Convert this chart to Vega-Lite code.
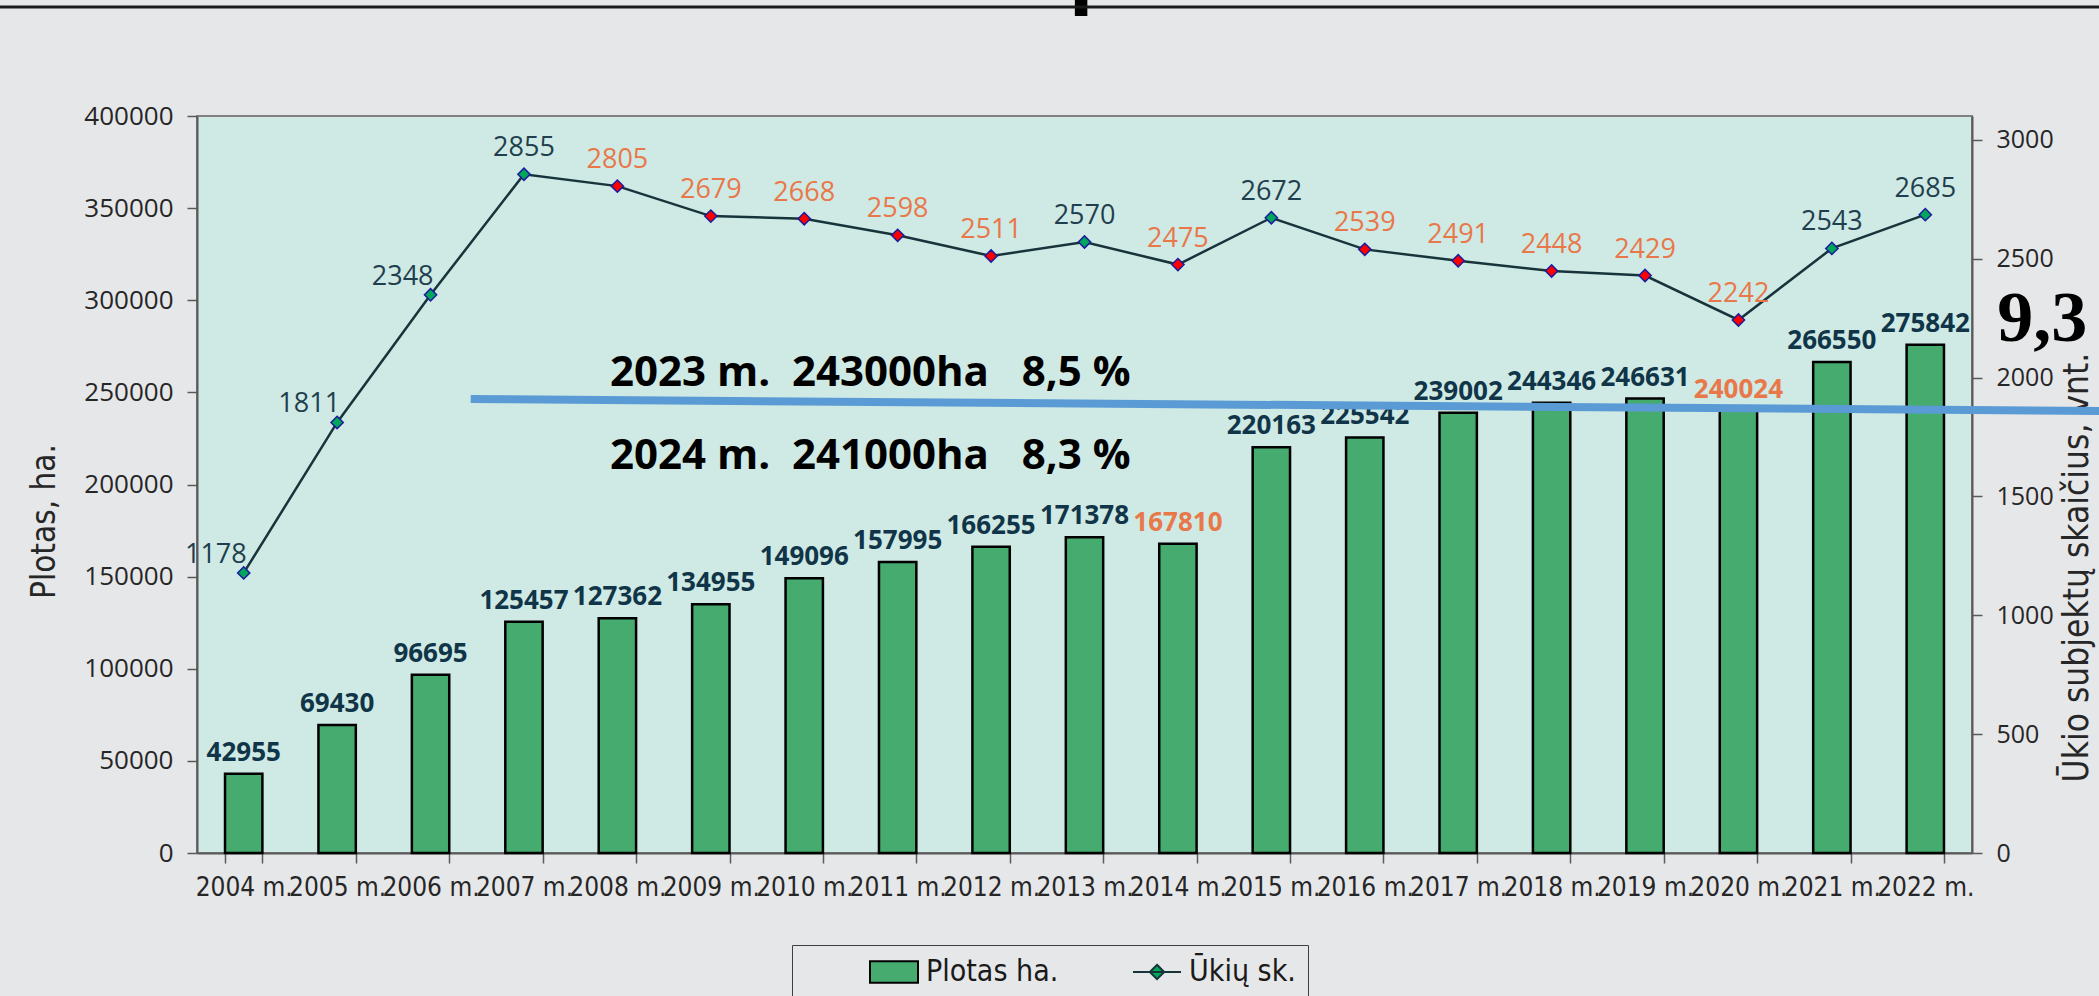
{
  "$schema": "https://vega.github.io/schema/vega-lite/v6.json",
  "width": 1775,
  "height": 737,
  "autosize": {"type": "none"},
  "padding": {"left": 197, "top": 116, "right": 127, "bottom": 143},
  "background": "#E6E7E9",
  "config": {
    "view": {"fill": "#CFE9E4", "stroke": "#808080", "strokeWidth": 2},
    "font": "Open Sans"
  },
  "datasets": {
    "duomenys": [
      {"metai": "2004 m.", "plotas": 42955, "ukiai": 1178, "ploto_pokytis": "augimas", "ukiu_pokytis": "augimas"},
      {"metai": "2005 m.", "plotas": 69430, "ukiai": 1811, "ploto_pokytis": "augimas", "ukiu_pokytis": "augimas"},
      {"metai": "2006 m.", "plotas": 96695, "ukiai": 2348, "ploto_pokytis": "augimas", "ukiu_pokytis": "augimas"},
      {"metai": "2007 m.", "plotas": 125457, "ukiai": 2855, "ploto_pokytis": "augimas", "ukiu_pokytis": "augimas"},
      {"metai": "2008 m.", "plotas": 127362, "ukiai": 2805, "ploto_pokytis": "augimas", "ukiu_pokytis": "kritimas"},
      {"metai": "2009 m.", "plotas": 134955, "ukiai": 2679, "ploto_pokytis": "augimas", "ukiu_pokytis": "kritimas"},
      {"metai": "2010 m.", "plotas": 149096, "ukiai": 2668, "ploto_pokytis": "augimas", "ukiu_pokytis": "kritimas"},
      {"metai": "2011 m.", "plotas": 157995, "ukiai": 2598, "ploto_pokytis": "augimas", "ukiu_pokytis": "kritimas"},
      {"metai": "2012 m.", "plotas": 166255, "ukiai": 2511, "ploto_pokytis": "augimas", "ukiu_pokytis": "kritimas"},
      {"metai": "2013 m.", "plotas": 171378, "ukiai": 2570, "ploto_pokytis": "augimas", "ukiu_pokytis": "augimas"},
      {"metai": "2014 m.", "plotas": 167810, "ukiai": 2475, "ploto_pokytis": "kritimas", "ukiu_pokytis": "kritimas"},
      {"metai": "2015 m.", "plotas": 220163, "ukiai": 2672, "ploto_pokytis": "augimas", "ukiu_pokytis": "augimas"},
      {"metai": "2016 m.", "plotas": 225542, "ukiai": 2539, "ploto_pokytis": "augimas", "ukiu_pokytis": "kritimas"},
      {"metai": "2017 m.", "plotas": 239002, "ukiai": 2491, "ploto_pokytis": "augimas", "ukiu_pokytis": "kritimas"},
      {"metai": "2018 m.", "plotas": 244346, "ukiai": 2448, "ploto_pokytis": "augimas", "ukiu_pokytis": "kritimas"},
      {"metai": "2019 m.", "plotas": 246631, "ukiai": 2429, "ploto_pokytis": "augimas", "ukiu_pokytis": "kritimas"},
      {"metai": "2020 m.", "plotas": 240024, "ukiai": 2242, "ploto_pokytis": "kritimas", "ukiu_pokytis": "kritimas"},
      {"metai": "2021 m.", "plotas": 266550, "ukiai": 2543, "ploto_pokytis": "augimas", "ukiu_pokytis": "augimas"},
      {"metai": "2022 m.", "plotas": 275842, "ukiai": 2685, "ploto_pokytis": "augimas", "ukiu_pokytis": "augimas"}
    ]
  },
  "layer": [
    {
      "data": {"name": "duomenys"},
      "encoding": {
        "x": {
          "field": "metai",
          "type": "ordinal",
          "scale": {"paddingInner": 0.6, "paddingOuter": 0.3},
          "axis": {
            "title": null,
            "labelFont": "DejaVu Sans Condensed, Open Sans, sans-serif",
            "labelFontSize": 26,
            "labelAngle": 0,
            "labelOverlap": false,
            "labelColor": "#262626",
            "tickBand": "extent",
            "tickSize": 10,
            "tickColor": "#595959",
            "tickWidth": 1.5,
            "labelPadding": 11,
            "domainColor": "#595959",
            "domainWidth": 2
          }
        }
      },
      "layer": [
        {
          "mark": {"type": "bar", "stroke": "#000000", "strokeWidth": 2.5},
          "encoding": {
            "y": {
              "field": "plotas",
              "type": "quantitative",
              "scale": {"domain": [0, 400000], "nice": false},
              "axis": {
                "values": [0, 50000, 100000, 150000, 200000, 250000, 300000, 350000, 400000],
                "format": "d",
                "grid": false,
                "title": "Plotas, ha.",
                "labelFont": "Open Sans",
                "labelFontSize": 26,
                "labelColor": "#262626",
                "tickSize": 10,
                "tickColor": "#595959",
                "tickWidth": 1.5,
                "labelPadding": 14,
                "domainColor": "#595959",
                "domainWidth": 2,
                "titleFont": "DejaVu Sans Condensed, Open Sans, sans-serif",
                "titleFontSize": 33,
                "titleFontWeight": "normal",
                "titleColor": "#262626",
                "titleAngle": 270,
                "titleX": -153,
                "titleY": 405,
                "titleAlign": "center",
                "titleBaseline": "middle"
              }
            },
            "color": {
              "datum": "Plotas ha.",
              "type": "nominal",
              "scale": {"domain": ["Plotas ha."], "range": ["#46AB6E"]},
              "legend": {
                "title": null,
                "orient": "none",
                "legendX": 595,
                "legendY": 829,
                "direction": "horizontal",
                "padding": 12,
                "labelFont": "DejaVu Sans Condensed, Open Sans, sans-serif",
                "labelFontSize": 30,
                "labelColor": "#1a1a1a",
                "labelOffset": 17,
                "symbolOffset": 75,
                "symbolSize": 576,
                "symbolType": "M-2,-0.9H2V0.9H-2Z",
                "symbolStrokeColor": "#000000",
                "symbolStrokeWidth": 2,
                "symbolOpacity": 1
              }
            }
          }
        },
        {
          "mark": {"type": "text", "font": "Open Sans", "fontWeight": "bold", "fontSize": 26, "baseline": "alphabetic", "dy": -13},
          "encoding": {
            "y": {"field": "plotas", "type": "quantitative"},
            "text": {"field": "plotas", "type": "quantitative", "format": "d"},
            "fill": {"condition": {"test": "datum.ploto_pokytis === 'kritimas'", "value": "#E8784A"}, "value": "#103548"}
          }
        }
      ]
    },
    {
      "data": {"name": "duomenys"},
      "encoding": {
        "x": {"field": "metai", "type": "ordinal", "scale": {"type": "point", "padding": 0.5}, "axis": null},
        "y": {
          "field": "ukiai",
          "type": "quantitative",
          "scale": {"domain": [0, 3100], "nice": false},
          "axis": {
            "orient": "right",
            "values": [0, 500, 1000, 1500, 2000, 2500, 3000],
            "format": "d",
            "grid": false,
            "title": "Ūkio subjektų skaičius, vnt.",
            "labelFont": "Open Sans",
            "labelFontSize": 25,
            "labelColor": "#262626",
            "tickSize": 10,
            "tickColor": "#595959",
            "tickWidth": 1.5,
            "labelPadding": 14,
            "domainColor": "#595959",
            "domainWidth": 2,
            "titleFont": "DejaVu Sans Condensed, Open Sans, sans-serif",
            "titleFontSize": 35,
            "titleFontWeight": "normal",
            "titleColor": "#262626",
            "titleAngle": 270,
            "titleX": 104,
            "titleY": 451,
            "titleAlign": "center",
            "titleBaseline": "middle"
          }
        }
      },
      "layer": [
        {
          "mark": {"type": "line", "strokeWidth": 2.5},
          "encoding": {
            "color": {
              "datum": "Ūkių sk.",
              "type": "nominal",
              "scale": {"domain": ["Ūkių sk."], "range": ["#17343B"]},
              "legend": {
                "title": null,
                "orient": "none",
                "legendX": 595,
                "legendY": 829,
                "direction": "horizontal",
                "strokeColor": "#404040",
                "padding": 12,
                "labelFont": "DejaVu Sans Condensed, Open Sans, sans-serif",
                "labelFontSize": 30,
                "labelColor": "#1a1a1a",
                "labelOffset": 17,
                "symbolOffset": 338,
                "symbolSize": 576,
                "symbolType": "M-2,0H2M0,-0.6L0.6,0L0,0.6L-0.6,0Z",
                "symbolFillColor": "#00A65A",
                "symbolStrokeWidth": 2,
                "symbolOpacity": 1
              }
            }
          }
        },
        {
          "mark": {"type": "point", "shape": "diamond", "size": 150, "filled": true, "stroke": "#1C1C9C", "strokeWidth": 1.5, "opacity": 1},
          "encoding": {
            "fill": {"condition": {"test": "datum.ukiu_pokytis === 'kritimas'", "value": "#FF0000"}, "value": "#00A65A"}
          }
        },
        {
          "transform": [{"filter": {"field": "metai", "oneOf": ["2004 m.", "2005 m.", "2006 m."]}}],
          "mark": {"type": "text", "font": "Open Sans", "fontSize": 27, "align": "right", "baseline": "alphabetic", "dx": 3, "dy": -10},
          "encoding": {
            "text": {"field": "ukiai", "type": "quantitative", "format": "d"},
            "fill": {"condition": {"test": "datum.ukiu_pokytis === 'kritimas'", "value": "#E8784A"}, "value": "#1F3F4E"}
          }
        },
        {
          "transform": [{"filter": {"not": {"field": "metai", "oneOf": ["2004 m.", "2005 m.", "2006 m."]}}}],
          "mark": {"type": "text", "font": "Open Sans", "fontSize": 27, "align": "center", "baseline": "alphabetic", "dy": -18},
          "encoding": {
            "text": {"field": "ukiai", "type": "quantitative", "format": "d"},
            "fill": {"condition": {"test": "datum.ukiu_pokytis === 'kritimas'", "value": "#E8784A"}, "value": "#1F3F4E"}
          }
        }
      ]
    },
    {
      "data": {"values": [{}]},
      "layer": [
        {
          "mark": {"type": "rule", "color": "#5B9BD5", "strokeWidth": 8},
          "encoding": {
            "x": {"datum": 2.93, "type": "quantitative", "scale": {"domain": [0, 19], "nice": false, "zero": false}, "axis": null},
            "x2": {"datum": 20.4},
            "y": {"datum": 246400, "type": "quantitative", "scale": {"domain": [0, 400000], "nice": false}, "axis": null},
            "y2": {"datum": 239900}
          }
        },
        {
          "mark": {"type": "text", "font": "Liberation Sans", "fontWeight": "bold", "fontSize": 91, "align": "left", "baseline": "alphabetic", "color": "#000000", "dy": -16},
          "encoding": {
            "x": {"datum": 3.265, "type": "quantitative", "axis": null},
            "y": {"datum": 455900, "type": "quantitative", "axis": null},
            "text": {"value": "sertifikuotas plotas 2004 - 2022 m."}
          }
        },
        {
          "mark": {"type": "rule", "color": "#1A1A1A", "strokeWidth": 3},
          "encoding": {
            "x": {"datum": -2.2, "type": "quantitative", "axis": null},
            "x2": {"datum": 20.4},
            "y": {"datum": 459150, "type": "quantitative", "axis": null}
          }
        },
        {
          "mark": {"type": "text", "font": "Open Sans", "fontWeight": "bold", "fontSize": 42, "align": "left", "baseline": "alphabetic", "color": "#000000"},
          "encoding": {
            "x": {"datum": 4.42, "type": "quantitative", "axis": null},
            "y": {"datum": 253460, "type": "quantitative", "axis": null},
            "text": {"value": "2023 m.\u00a0\u00a0243000ha\u00a0\u00a0\u00a08,5 %"}
          }
        },
        {
          "mark": {"type": "text", "font": "Open Sans", "fontWeight": "bold", "fontSize": 42, "align": "left", "baseline": "alphabetic", "color": "#000000"},
          "encoding": {
            "x": {"datum": 4.42, "type": "quantitative", "axis": null},
            "y": {"datum": 208410, "type": "quantitative", "axis": null},
            "text": {"value": "2024 m.\u00a0\u00a0241000ha\u00a0\u00a0\u00a08,3 %"}
          }
        },
        {
          "mark": {"type": "text", "font": "Liberation Serif", "fontWeight": "bold", "fontSize": 72, "align": "left", "baseline": "alphabetic", "color": "#000000"},
          "encoding": {
            "x": {"datum": 19.27, "type": "quantitative", "axis": null},
            "y": {"datum": 277900, "type": "quantitative", "axis": null},
            "text": {"value": "9,3 %"}
          }
        }
      ]
    }
  ],
  "resolve": {"scale": {"x": "independent", "y": "independent", "color": "independent"}}
}
